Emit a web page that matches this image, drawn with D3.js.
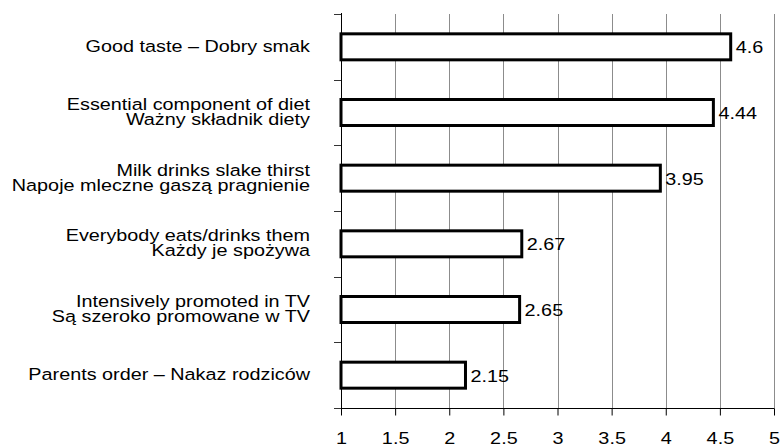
<!DOCTYPE html>
<html>
<head>
<meta charset="utf-8">
<script src="https://cdn.jsdelivr.net/npm/d3@7"></script>
<style>
  body { margin: 0; background: #fff; }
  text { font-family: "Liberation Sans", Arial, sans-serif; fill: #000; }
</style>
</head>
<body>
<script>
// categories, top to bottom; each one is [english, polish] or a single line
var labels = [
	["Good taste \u2013 Dobry smak"],
	["Essential component of diet", "Wa\u017cny sk\u0142adnik diety"],
	["Milk drinks slake thirst", "Napoje mleczne gasz\u0105 pragnienie"],
	["Everybody eats/drinks them", "Ka\u017cdy je spo\u017cywa"],
	["Intensively promoted in TV", "S\u0105 szeroko promowane w TV"],
	["Parents order \u2013 Nakaz rodzic\u00f3w"]
];
var values = [4.6, 4.44, 3.95, 2.67, 2.65, 2.15];
var ticks = [1, 1.5, 2, 2.5, 3, 3.5, 4, 4.5, 5];

var width = 780, height = 447;
var stretch = 1.2;

var svg = d3.select("body").append("svg")
	.attr("width", width)
	.attr("height", height);

var x = d3.scaleLinear().domain([1, 5]).range([341, 774]);
var y = d3.scaleBand().domain(d3.range(labels.length)).range([14, 408]);
var step = y.step();
var barH = 26;

// grid
svg.append("g").selectAll("line")
	.data(ticks.slice(1))
	.enter().append("line")
	.attr("x1", function(d) { return Math.round(x(d)) + 0.5; })
	.attr("x2", function(d) { return Math.round(x(d)) + 0.5; })
	.attr("y1", 14)
	.attr("y2", 408)
	.style("stroke", "#8c8c8c")
	.style("stroke-width", 1);

// x axis
var xAxis = d3.axisBottom(x).tickValues(ticks).tickSize(7).tickFormat(d3.format("~g"));
var gx = svg.append("g")
	.attr("transform", "translate(0,408.5)")
	.call(xAxis);
gx.select(".domain").attr("d", "M" + x(1) + ",0H" + (x(5) + 0.5)).style("stroke", "#000");
gx.selectAll(".tick line").style("stroke", "#000");
gx.selectAll(".tick text")
	.attr("y", 0)
	.attr("dy", null)
	.attr("x", 0)
	.style("font-size", "16.5px")
	.style("font-family", "'Liberation Sans', Arial, sans-serif")
	.attr("transform", "translate(0,35.5) scale(" + stretch + ",1)");

// y axis with ticks at the category boundaries
var gy = svg.append("g");
gy.append("line")
	.attr("x1", 341.5).attr("x2", 341.5)
	.attr("y1", 13).attr("y2", 408)
	.style("stroke", "#000");
gy.selectAll(".yt")
	.data(d3.range(labels.length + 1))
	.enter().append("line")
	.attr("class", "yt")
	.attr("x1", 334).attr("x2", 341)
	.attr("y1", function(i) { return Math.round(14 + i * step) + 0.5; })
	.attr("y2", function(i) { return Math.round(14 + i * step) + 0.5; })
	.style("stroke", "#333");

// bars
svg.append("g").selectAll("rect")
	.data(values)
	.enter().append("rect")
	.attr("x", x(1))
	.attr("y", function(d, i) { return y(i) + (step - barH) / 2; })
	.attr("width", function(d) { return x(d) - x(1); })
	.attr("height", barH)
	.style("fill", "#fff")
	.style("stroke", "#000")
	.style("stroke-width", 3);

// value labels
svg.append("g").selectAll("text")
	.data(values)
	.enter().append("text")
	.attr("transform", function(d, i) {
		return "translate(" + (x(d) + 5) + "," + (y(i) + step / 2 + 6.5) + ") scale(" + stretch + ",1)";
	})
	.style("font-size", "16.5px")
	.text(function(d) { return d; });

// category labels
labels.forEach(function(lines, i) {
	var cy = y(i) + step / 2;
	var first = lines.length === 1 ? cy + 5 : cy - 2.5;
	lines.forEach(function(s, k) {
		svg.append("text")
			.attr("transform", "translate(310," + (first + k * 15) + ") scale(" + stretch + ",1)")
			.attr("text-anchor", "end")
			.style("font-size", "16.5px")
			.text(s);
	});
});
</script>
</body>
</html>
